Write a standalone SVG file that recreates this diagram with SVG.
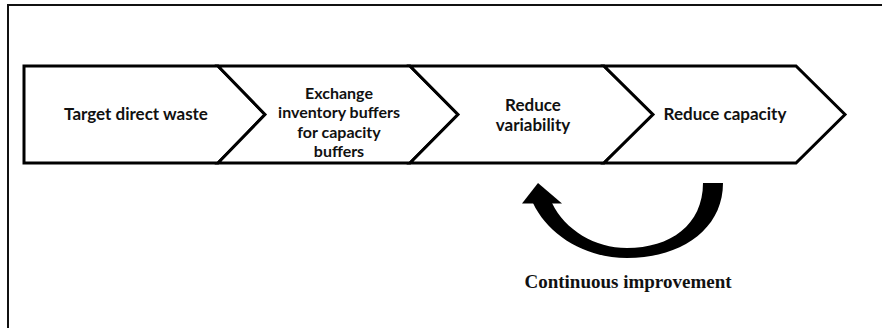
<svg xmlns="http://www.w3.org/2000/svg" width="882" height="328" viewBox="0 0 882 328">
  <style>
    .step { fill: #ffffff; stroke: #000000; stroke-width: 3; stroke-linejoin: miter; }
    .label { font-family: Lato, "Open Sans", sans-serif; font-weight: bold; font-size: 17px; fill: #111111; text-anchor: middle; }
    .label.dense { font-size: 16px; }
    .caption { font-family: "Liberation Serif", serif; font-weight: bold; font-size: 19px; fill: #111111; text-anchor: middle; }
    .frame { fill: none; stroke: #111111; stroke-width: 2; }
  </style>
  <rect width="882" height="328" fill="#ffffff"/>

  <!-- outer frame -->
  <path class="frame" d="M 8 328 L 8 5 L 882 5"/>

  <g id="step-target-direct-waste">
    <polygon class="step" points="24,66 218,66 265,114.5 218,163 24,163"/>
    <text class="label" x="136" y="120">Target direct waste</text>
  </g>

  <g id="step-exchange-buffers">
    <polygon class="step" points="218,66 410,66 458,114.5 410,163 218,163 265,114.5"/>
    <text class="label dense" x="339" y="98.5">Exchange</text>
    <text class="label dense" x="339" y="118">inventory buffers</text>
    <text class="label dense" x="339" y="137.5">for capacity</text>
    <text class="label dense" x="339" y="157">buffers</text>
  </g>

  <g id="step-reduce-variability">
    <polygon class="step" points="410,66 604,66 653,114.5 604,163 410,163 458,114.5"/>
    <text class="label" x="533" y="111">Reduce</text>
    <text class="label" x="533" y="131">variability</text>
  </g>

  <g id="step-reduce-capacity">
    <polygon class="step" points="604,66 796,66 845,114.5 796,163 604,163 653,114.5"/>
    <text class="label" x="725" y="120">Reduce capacity</text>
  </g>

  <g id="connectors">
    <!-- curved feedback arrow -->
    <path fill="#000000" d="M 723 183 C 723 230 680 258 627 258 C 585 258 548 235 533 203 L 552 203 C 565 230 595 248 627 248 C 670 248 703 225 703 183 Z"/>
    <polygon fill="#000000" points="538,183 522,203.5 562,203.5"/>
  </g>

  <g id="label-continuous-improvement">
    <text class="caption" x="628" y="288">Continuous improvement</text>
  </g>
</svg>
